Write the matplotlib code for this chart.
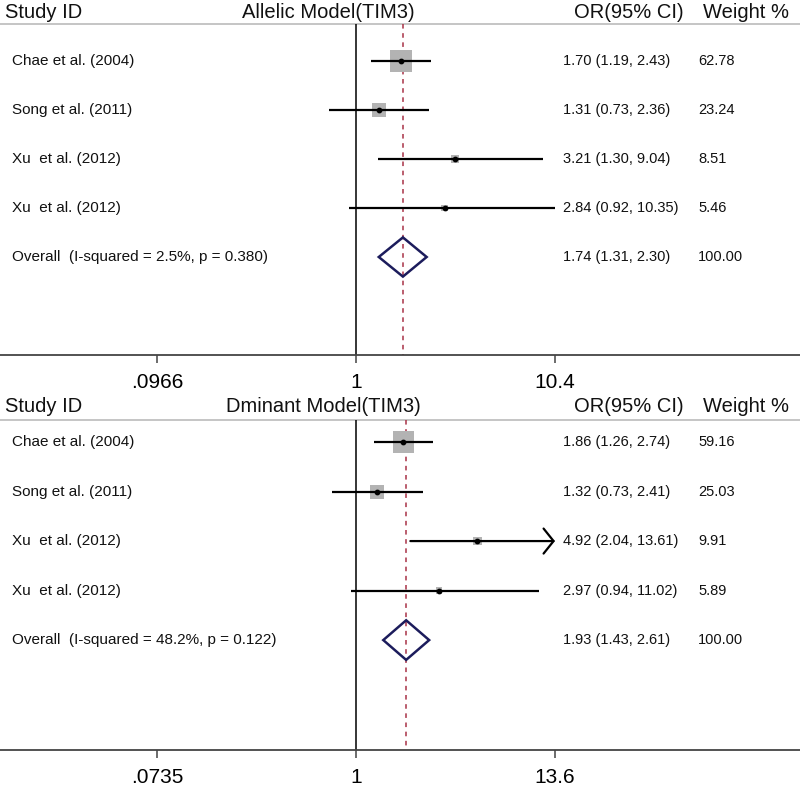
import numpy as np
import matplotlib
matplotlib.use('Agg')
from matplotlib import pyplot as plt
import matplotlib.transforms as mtransforms

plt.rcParams['font.family'] = ['Liberation Sans', 'DejaVu Sans']

# study data, same four studies in both models
studies = ['Chae et al. (2004)', 'Song et al. (2011)', 'Xu  et al. (2012)', 'Xu  et al. (2012)']

# allelic model
allelic_or = [1.70, 1.31, 3.21, 2.84]
allelic_lo = [1.19, 0.73, 1.30, 0.92]
allelic_hi = [2.43, 2.36, 9.04, 10.35]
allelic_w = [62.78, 23.24, 8.51, 5.46]
allelic_overall = (1.74, 1.31, 2.30)
allelic_het = 'Overall  (I-squared = 2.5%, p = 0.380)'
allelic_ticks = [0.0966, 1, 10.4]
allelic_ticklabels = ['.0966', '1', '10.4']

# dominant model
dominant_or = [1.86, 1.32, 4.92, 2.97]
dominant_lo = [1.26, 0.73, 2.04, 0.94]
dominant_hi = [2.74, 2.41, 13.61, 11.02]
dominant_w = [59.16, 25.03, 9.91, 5.89]
dominant_overall = (1.93, 1.43, 2.61)
dominant_het = 'Overall  (I-squared = 48.2%, p = 0.122)'
dominant_ticks = [0.0735, 1, 13.6]
dominant_ticklabels = ['.0735', '1', '13.6']

W, H = 800, 795
fig = plt.figure(figsize=(8, 7.95), dpi=100)


def forest(rect_px, title, title_x, ors, los, his, ws, overall, het, ticks, ticklabels,
           ylim, header_y, header_line):
    top, bottom = rect_px
    ax = fig.add_axes([0, 1 - bottom / H, 1, (bottom - top) / H])
    ax.set_xscale('log')
    # put the outer ticks at fixed positions across the page
    f0, f1 = 157 / W, 555 / W
    la, lb = np.log(ticks[0]), np.log(ticks[-1])
    k = (lb - la) / (f1 - f0)
    ax.set_xlim(np.exp(la - f0 * k), np.exp(la + (1 - f0) * k))
    ax.set_ylim(*ylim)
    for s in ['top', 'left', 'right']:
        ax.spines[s].set_visible(False)
    ax.spines['bottom'].set_color('#444444')
    ax.spines['bottom'].set_linewidth(1.3)
    ax.set_yticks([])
    ax.set_xticks(ticks)
    ax.set_xticklabels(ticklabels, fontsize=15)
    ax.minorticks_off()
    ax.tick_params(axis='x', length=6, width=1.1, color='#444444', pad=7)

    tr = mtransforms.blended_transform_factory(ax.transAxes, ax.transData)
    txt = '#111111'
    hs = 14.5
    ax.text(5 / W, header_y, 'Study ID', transform=tr, fontsize=hs, va='center', color=txt)
    ax.text(title_x / W, header_y, title, transform=tr, fontsize=hs, va='center', color=txt)
    ax.text(574 / W, header_y, 'OR(95% CI)', transform=tr, fontsize=hs, va='center', color=txt)
    ax.text(703 / W, header_y, 'Weight %', transform=tr, fontsize=hs, va='center', color=txt)
    ax.axhline(header_line, color='#bbbbbb', lw=1.2)

    ymax = ylim[0]
    ax.vlines(1, header_line, ymax, color='black', lw=1.1)
    ax.vlines(overall[0], header_line, ymax, color='#a83246', lw=1.1,
              linestyles=(0, (3, 3)))

    xmax = ticks[-1]
    fs = 11
    fo = 10.5
    for i in range(len(ors)):
        y = i + 1
        if his[i] > xmax:
            ax.annotate('', xy=(xmax, y), xytext=(los[i], y),
                        arrowprops=dict(arrowstyle='->,head_length=0.36,head_width=0.45',
                                        lw=1.6, color='black', shrinkA=0, shrinkB=0,
                                        mutation_scale=20))
        else:
            ax.hlines(y, los[i], his[i], color='black', lw=1.6, zorder=3)
        ax.scatter([ors[i]], [y], marker='s', s=4.06 * ws[i], color='#b3b3b3',
                   edgecolors='none', zorder=2)
        ax.scatter([ors[i]], [y], marker='o', s=10, color='black', zorder=4)
        ax.text(12 / W, y, studies[i], transform=tr, fontsize=fs, va='center', color=txt)
        ax.text(563 / W, y, '%.2f (%.2f, %.2f)' % (ors[i], los[i], his[i]),
                transform=tr, fontsize=fo, va='center', color=txt)
        ax.text(698 / W, y, '%.2f' % ws[i], transform=tr, fontsize=fo, va='center', color=txt)

    y = len(ors) + 1
    est, lo, hi = overall
    ax.fill([lo, est, hi, est, lo], [y, y - 0.4, y, y + 0.4, y], facecolor='none',
            edgecolor='#1c1c5c', lw=1.8, zorder=3)
    ax.text(12 / W, y, het, transform=tr, fontsize=fs, va='center', color=txt)
    ax.text(563 / W, y, '%.2f (%.2f, %.2f)' % overall, transform=tr, fontsize=fo,
            va='center', color=txt)
    ax.text(698 / W, y, '100.00', transform=tr, fontsize=fo, va='center', color=txt)
    return ax


forest((0, 355), 'Allelic Model(TIM3)', 242, allelic_or, allelic_lo, allelic_hi, allelic_w,
       allelic_overall, allelic_het, allelic_ticks, allelic_ticklabels,
       ylim=(7.0, -0.245), header_y=0.0, header_line=0.245)

forest((395, 750), 'Dminant Model(TIM3)', 226, dominant_or, dominant_lo, dominant_hi, dominant_w,
       dominant_overall, dominant_het, dominant_ticks, dominant_ticklabels,
       ylim=(7.22, 0.05), header_y=0.29, header_line=0.556)

fig.savefig('out.png', dpi=100)
